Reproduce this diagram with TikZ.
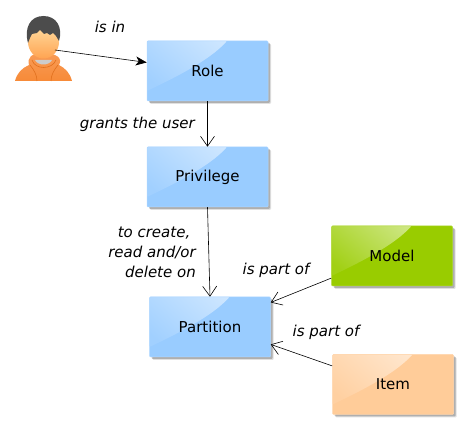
\documentclass[tikz,border=0pt]{standalone}
\usepackage{fontspec}
\setmainfont{DejaVu Sans}
\usetikzlibrary{calc, arrows.meta, positioning, shadows}

\begin{document}
\begin{tikzpicture}[x=1pt, y=-1pt, >=Stealth, font=\fontsize{15}{18}\selectfont]
        % Styles
        \definecolor{roleBlue}{HTML}{99CCFF}
        \definecolor{modelGreen}{HTML}{99CC00}
        \definecolor{itemOrange}{HTML}{FFCC99}
        \definecolor{hoodOrange}{HTML}{F78A38}
        \definecolor{hoodLine}{HTML}{E0701E}
        \definecolor{faceTop}{HTML}{FFDB9E}
        \definecolor{faceBottom}{HTML}{FFA452}
        \tikzset{
          block/.style={draw=#1!80!white, fill=#1, line width=0.5pt, rectangle, rounded corners=1pt,
            minimum width=121pt, minimum height=60pt,
            drop shadow={shadow xshift=3pt, shadow yshift=-3pt, opacity=0.12, fill=black},
            drop shadow={shadow xshift=2pt, shadow yshift=-2pt, opacity=0.22, fill=black},
            path picture={
              \shade[left color=#1!42!white, right color=#1!92!white, shading angle=-40]
                (path picture bounding box.north west)
                -- ($(path picture bounding box.north west)+(80,0)$)
                .. controls ($(path picture bounding box.north west)+(62,20)$) and ($(path picture bounding box.north west)+(25,38)$)
                .. ($(path picture bounding box.north west)+(0,50)$) -- cycle;
            }},
          barb/.style={-{Straight Barb[length=10pt, width=14pt]}, line width=0.6pt},
          solid arrow/.style={-{Stealth[length=11pt, width=9pt, inset=3pt]}, line width=0.6pt},
          label/.style={font=\fontsize{15}{20}\selectfont\itshape, inner sep=0pt},
        }

        \useasboundingbox (0,0) rectangle (469,430);

        % Person
        \shade[top color=hoodOrange!85!white, bottom color=hoodOrange]
          (15,81) .. controls (17,73) and (22,68) .. (29,65)
          .. controls (27,58) and (31,53) .. (43,53)
          .. controls (56,53) and (63,58) .. (59,65)
          .. controls (65,68) and (70,73) .. (72,81) -- cycle;
        \draw[hoodLine, line width=0.6pt] (30,65) .. controls (34,70) and (37,75) .. (37,81)
          (58,65) .. controls (54,70) and (51,75) .. (51,81)
          (32,60) .. controls (35,70) and (52,70) .. (56,60);
        \fill[black!20] (35,60) .. controls (38,66) and (49,66) .. (52,60) -- cycle;
        \shade[top color=faceTop, bottom color=faceBottom]
          (43.5,42) ellipse (15.5 and 16.5);
        \fill[black!70] (28,43) .. controls (24,28) and (30,16) .. (43.5,16)
          .. controls (57,16) and (63,28) .. (59,41)
          -- (56,36) -- (53,33) -- (50,35) -- (47,33) -- (44,34) -- (40,30) -- (37,33) -- (32,34) -- (30,38) -- cycle;

        % Nodes
        \node at (55,50) [coordinate] (user){};
        \node at (207.5,71) [block=roleBlue] (role) {Role};
        \node [block=roleBlue, below=106pt of role.center, anchor=center] (privilege) {Privilege};
        \node at (210,327) [block=roleBlue] (partition) {Partition};
        \node at (392,256) [block=modelGreen] (model) {Model};
        \node [block=itemOrange, below=128.5pt of model.center, anchor=center, xshift=1pt] (item) {Item};

        % Labels
        \node at (110,27) [label] (isIn) {is in};
        \node at (195,124) [label, anchor=east] (grants) {grants the user};
        \node at (196,252) [label, anchor=east, align=right] (toCreate)
          {to create,\hspace*{5.5pt}\\read and/or\hspace*{5.5pt}\\delete on};
        \node at (276,270) [label] (partOfModel) {is part of};
        \node at (326,332) [label] (partOfItem) {is part of};

        % Lines
        \draw [solid arrow] (user) -- (role.172);
        \draw [barb] (role.south) -- (privilege.north);
        \draw [barb] (privilege.south) -- (partition.north);
        \draw [barb] (model.200) -- (partition.22);
        \draw [barb] (item.163) -- (partition.-16);
\end{tikzpicture}
\end{document}
